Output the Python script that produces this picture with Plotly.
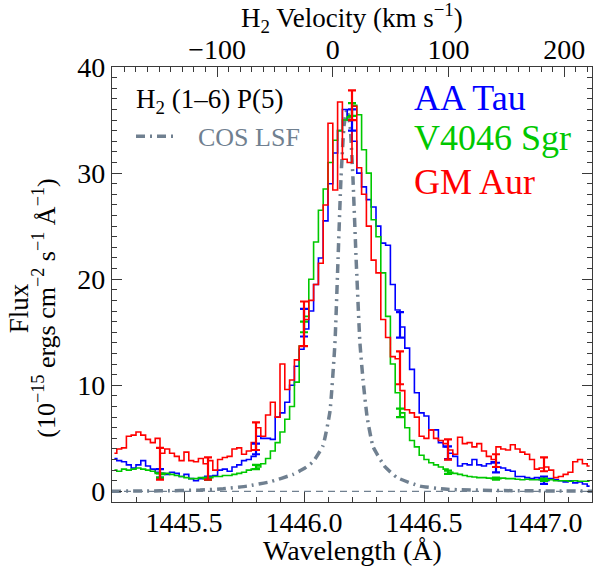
import numpy as np
import plotly.graph_objects as go

# ---------------- data ----------------
LAM0 = 1446.12          # rest wavelength of H2 (1-6) P(5), Angstrom
C_KMS = 299792.458
lam_start, lam_step, nbin = 1445.21, 0.02, 100
wavelength = lam_start + lam_step * np.arange(nbin)

aa_tau = [3.1, 2.9, 2.8, 2.5, 2.2, 2.5, 2.9, 2.4, 2.1, 1.8,
          1.7, 1.6, 1.8, 1.7, 1.4, 1.6, 1.2, 1.0, 1.2, 1.3,
          1.4, 1.5, 2.0, 2.1, 1.9, 2.3, 2.5, 2.9, 3.0, 3.3,
          5.2, 5.0, 5.0, 4.9, 7.0, 7.4, 8.4, 10.0, 11.8, 13.4,
          15.3, 17.0, 19.5, 22.0, 25.5, 29.0, 31.9, 34.0, 36.0, 35.0,
          33.0, 30.0, 28.7, 27.5, 26.8, 25.0, 23.4, 23.2, 19.5, 17.1,
          15.5, 13.5, 11.5, 9.3, 7.4, 7.1, 5.8, 5.8, 4.6, 4.2,
          3.6, 3.3, 2.4, 2.6, 2.5, 3.0, 2.5, 2.4, 2.6, 2.8,
          2.3, 2.2, 2.0, 1.9, 1.4, 1.4, 1.3, 1.2, 1.3, 1.1,
          1.0, 1.2, 1.1, 1.0, 0.9, 1.0, 0.8, 0.9, 0.7, 0.5]

v4046_sgr = [2.0, 1.9, 2.1, 2.0, 2.1, 2.2, 2.1, 2.0, 1.9, 1.7,
             1.6, 1.7, 1.6, 1.5, 1.4, 1.3, 1.2, 1.2, 1.3, 1.2,
             1.3, 1.4, 1.4, 1.5, 1.5, 1.6, 1.7, 1.8, 2.0, 2.1,
             2.3, 2.6, 3.1, 3.8, 4.6, 5.6, 6.8, 8.0, 10.3, 13.7,
             16.5, 20.0, 23.5, 26.5, 28.5, 31.0, 33.1, 34.0, 35.0, 35.3,
             36.4, 35.5, 32.2, 30.0, 25.6, 24.0, 20.6, 16.5, 12.0, 9.3,
             7.4, 6.0, 4.8, 4.2, 3.4, 3.0, 2.7, 2.5, 2.3, 2.1,
             1.8, 1.7, 1.6, 1.5, 1.4, 1.35, 1.3, 1.3, 1.25, 1.2,
             1.2, 1.25, 1.2, 1.2, 1.15, 1.1, 1.15, 1.1, 1.1, 1.1,
             1.05, 1.1, 1.0, 1.0, 1.0, 0.95, 1.0, 0.95, 0.95, 0.95]

gm_aur = [3.6, 4.0, 4.1, 5.2, 5.3, 5.6, 5.3, 4.9, 4.6, 5.0,
          3.6, 4.0, 3.6, 3.3, 2.9, 3.7, 2.9, 2.8, 3.1, 2.6,
          2.9, 2.0, 3.0, 3.2, 3.3, 4.0, 4.1, 3.5, 3.8, 4.6,
          6.0, 5.2, 7.2, 8.4, 7.0, 12.0, 9.6, 10.5, 12.4, 13.7,
          16.2, 18.0, 19.5, 21.5, 27.0, 34.7, 28.4, 36.7, 31.3, 31.0,
          36.3, 30.5, 28.0, 25.0, 21.8, 20.6, 16.2, 14.5, 12.7, 12.5,
          9.5, 7.7, 7.4, 7.0, 5.2, 5.0, 5.8, 5.0, 4.8, 4.5,
          3.9, 3.5, 5.1, 4.5, 4.6, 4.2, 4.5, 3.8, 3.3, 3.0,
          4.2, 4.0, 3.9, 4.4, 4.0, 3.7, 3.5, 3.0, 2.1, 2.2,
          2.3, 2.0, 1.3, 1.4, 1.6, 1.8, 2.8, 3.0, 2.6, 2.4]

# representative error bars
err_lam = [1445.4, 1445.6, 1445.8, 1446.0, 1446.2, 1446.4, 1446.6, 1446.8, 1447.0]
aa_tau_err_val = [1.7, 1.25, 4.0, 15.9, 35.0, 15.7, 3.65, 2.25, 1.05]
aa_tau_err = [0.4, 0.15, 0.5, 1.3, 1.0, 1.2, 0.6, 0.45, 0.35]
v4046_err_val = [1.5, 1.2, 2.3, 15.5, 36.0, 7.4, 1.8, 1.2, 1.1]
v4046_err = [0.2, 0.1, 0.2, 0.5, 0.6, 0.4, 0.15, 0.1, 0.1]
gm_aur_err_val = [2.6, 2.15, 5.2, 15.8, 36.4, 11.65, 3.95, 2.9, 2.55]
gm_aur_err = [1.5, 1.05, 1.3, 2.1, 1.4, 1.55, 0.95, 0.6, 0.65]

# COS line spread function (scaled)
lsf_lam = [1445.200, 1445.400, 1445.567, 1445.663, 1445.763, 1445.858, 1445.954,
           1446.004, 1446.038, 1446.079, 1446.108, 1446.129, 1446.142, 1446.154,
           1446.167, 1446.179, 1446.192, 1446.204, 1446.217, 1446.233, 1446.246,
           1446.263, 1446.288, 1446.338, 1446.388, 1446.483, 1446.596, 1446.817,
           1447.200]
lsf_flux = [0.02, 0.05, 0.12, 0.25, 0.5, 0.9, 1.6,
            2.2, 2.8, 4.3, 7.5, 14.0, 22.0, 29.5,
            34.5, 36.0, 34.5, 29.5, 22.0, 14.0, 10.5,
            7.0, 4.2, 2.3, 1.3, 0.5, 0.2, 0.08,
            0.02]

x_range = [1445.2, 1447.2]
y_range = [-1, 40]


def to_velocity(lam):
    return (np.asarray(lam) - LAM0) / LAM0 * C_KMS


vel_range = list(to_velocity(x_range))

BLUE = "rgb(0,0,255)"
GREEN = "rgb(0,200,0)"
RED = "rgb(255,0,0)"
GREY = "rgb(112,128,144)"
AXC = "#3a3a3a"
FONT = "Liberation Serif"

fig = go.Figure()

fig.add_hline(y=0, line=dict(color=GREY, width=1.3, dash="7px,5px"))

fig.add_trace(go.Scatter(x=lsf_lam, y=lsf_flux, mode="lines",
                         line=dict(color=GREY, width=3.5, dash="9px,5px,2px,5px",
                                   shape="spline", smoothing=0.4),
                         showlegend=False, hoverinfo="skip"))

for series, col in [(aa_tau, BLUE), (v4046_sgr, GREEN), (gm_aur, RED)]:
    fig.add_trace(go.Scatter(x=wavelength, y=series, mode="lines",
                             line=dict(color=col, width=1.6, shape="hvh"),
                             showlegend=False))

for vals, errs, col in [(aa_tau_err_val, aa_tau_err, BLUE),
                        (v4046_err_val, v4046_err, GREEN),
                        (gm_aur_err_val, gm_aur_err, RED)]:
    fig.add_trace(go.Scatter(x=err_lam, y=vals, mode="markers",
                             marker=dict(size=1, color=col),
                             error_y=dict(type="data", array=errs, color=col,
                                          thickness=2.2, width=4),
                             showlegend=False))

# invisible copy on the velocity axis so the top axis is drawn
fig.add_trace(go.Scatter(x=to_velocity(wavelength), y=aa_tau, xaxis="x2", mode="lines",
                         line=dict(width=0), opacity=0, showlegend=False, hoverinfo="skip"))

axis_common = dict(ticks="inside", showline=True, linecolor=AXC, linewidth=1.2,
                   tickcolor=AXC, showgrid=False, zeroline=False,
                   tickfont=dict(family=FONT, size=28, color="black"))

fig.update_layout(
    width=594, height=572,
    margin=dict(l=112, r=2, t=67, b=70),
    paper_bgcolor="white", plot_bgcolor="white",
    font=dict(family=FONT, color="black"),
    xaxis=dict(range=x_range, dtick=0.5, tick0=1445.0, tickformat=".1f", ticklen=10,
               ticklabelstandoff=-5,
               minor=dict(dtick=0.1, ticklen=5, ticks="inside", tickcolor=AXC),
               **axis_common),
    xaxis2=dict(range=vel_range, overlaying="x", side="top", anchor="y",
                dtick=100, tick0=0, ticklen=10, ticklabelstandoff=-4,
                minor=dict(dtick=10, ticklen=5, ticks="inside", tickcolor=AXC),
                **axis_common),
    yaxis=dict(range=y_range, dtick=10, tick0=0, ticklen=10, mirror="ticks",
               minor=dict(dtick=1, ticklen=5, ticks="inside", tickcolor=AXC),
               **axis_common),
)


def note(text, x, y, size, color="black", xanchor="center", angle=0):
    fig.add_annotation(text=text, x=x, y=y, xref="paper", yref="paper", showarrow=False,
                       xanchor=xanchor, yanchor="middle", textangle=angle,
                       font=dict(family=FONT, size=size, color=color))


note("Wavelength (Å)", 0.5, -0.112, 28)
note("H<sub>2</sub> Velocity (km s<sup>−1</sup>)", 0.5, 1.113, 27)
note("Flux", -0.192, 0.445, 27, angle=-90)
note("(10<sup>−15</sup> ergs cm<sup>−2</sup> s<sup>−1</sup> Å<sup>−1</sup>)", -0.141, 0.445, 26, angle=-90)

note("H<sub>2</sub> (1–6) P(5)", 0.046, 0.922, 27, xanchor="left")
note("COS LSF", 0.175, 0.839, 26, color=GREY, xanchor="left")
fig.add_shape(type="line", xref="paper", yref="paper", x0=0.05, x1=0.135, y0=0.841, y1=0.841,
              line=dict(color=GREY, width=3.5, dash="9px,5px,2px,5px"))
for txt, yy, col in [("AA Tau", 0.929, BLUE), ("V4046 Sgr", 0.837, GREEN), ("GM Aur", 0.736, RED)]:
    note(txt, 0.624, yy, 36, color=col, xanchor="left")

fig.write_html("out.html", config={"displayModeBar": False},
               post_script="document.body.style.margin='0px';")
